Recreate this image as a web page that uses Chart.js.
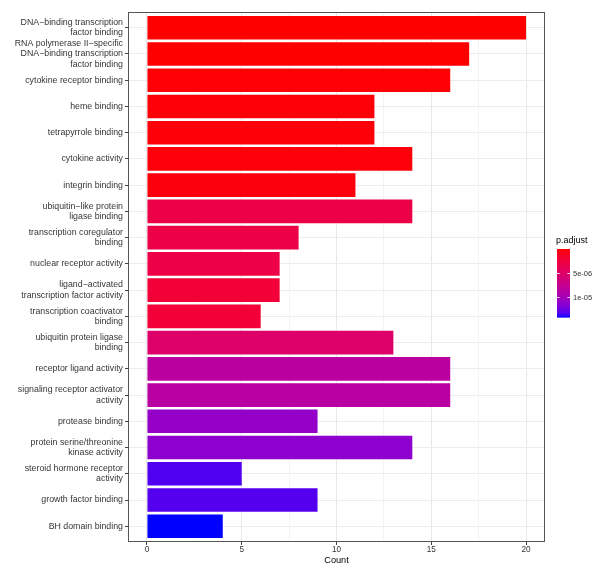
<!DOCTYPE html>
<html>
<head>
<meta charset="utf-8">
<script src="https://cdn.jsdelivr.net/npm/chart.js@4/dist/chart.umd.min.js"></script>
<style>
  html, body { margin: 0; padding: 0; background: #ffffff; }
  #wrap { width: 600px; height: 564px; position: relative; }
</style>
</head>
<body>
<div id="wrap"><canvas id="chart" width="600" height="564"></canvas></div>
<script>
// GO molecular-function terms (top to bottom), gene counts and adjusted p-values
const categories = [
  ['DNA\u2212binding transcription', 'factor binding'],
  ['RNA polymerase II\u2212specific', 'DNA\u2212binding transcription', 'factor binding'],
  'cytokine receptor binding',
  'heme binding',
  'tetrapyrrole binding',
  'cytokine activity',
  'integrin binding',
  ['ubiquitin\u2212like protein', 'ligase binding'],
  ['transcription coregulator', 'binding'],
  'nuclear receptor activity',
  ['ligand\u2212activated', 'transcription factor activity'],
  ['transcription coactivator', 'binding'],
  ['ubiquitin protein ligase', 'binding'],
  'receptor ligand activity',
  ['signaling receptor activator', 'activity'],
  'protease binding',
  ['protein serine/threonine', 'kinase activity'],
  ['steroid hormone receptor', 'activity'],
  'growth factor binding',
  'BH domain binding'
];
const counts = [20, 17, 16, 12, 12, 14, 11, 14, 8, 7, 7, 6, 13, 16, 16, 9, 14, 5, 9, 4];
const pAdjust = [
  1.1e-8, 4.3e-8, 9.5e-8, 1.6e-7, 1.6e-7, 2.4e-7, 3.3e-7,
  3.0e-6, 3.0e-6, 2.9e-6, 2.1e-6, 2.1e-6, 5.1e-6,
  8.5e-6, 8.6e-6, 1.1e-5, 1.13e-5, 1.34e-5, 1.33e-5, 1.42e-5
];
const countTicks = [0, 5, 10, 15, 20];
const countMinorTicks = [2.5, 7.5, 12.5, 17.5];
const legendTicks = [5e-6, 1e-5];
const legendTickLabels = ['5e-06', '1e-05'];

// ---- colour scale: red (low p) to blue (high p), interpolated in CIE Lab ----
function toLinear(c) { c /= 255; return c <= 0.04045 ? c / 12.92 : Math.pow((c + 0.055) / 1.055, 2.4); }
function fromLinear(c) {
  c = c <= 0.0031308 ? 12.92 * c : 1.055 * Math.pow(c, 1 / 2.4) - 0.055;
  return Math.round(Math.max(0, Math.min(1, c)) * 255);
}
function rgbToLab(r, g, b) {
  const R = toLinear(r), G = toLinear(g), B = toLinear(b);
  const X = (0.4124 * R + 0.3576 * G + 0.1805 * B) / 0.95047;
  const Y = (0.2126 * R + 0.7152 * G + 0.0722 * B);
  const Z = (0.0193 * R + 0.1192 * G + 0.9505 * B) / 1.08883;
  const f = v => v > 0.008856 ? Math.cbrt(v) : 7.787 * v + 16 / 116;
  const fx = f(X), fy = f(Y), fz = f(Z);
  return [116 * fy - 16, 500 * (fx - fy), 200 * (fy - fz)];
}
function labToRgb(L, a, b) {
  const fy = (L + 16) / 116, fx = fy + a / 500, fz = fy - b / 200;
  const fi = v => (v * v * v > 0.008856 ? v * v * v : (v - 16 / 116) / 7.787);
  const X = fi(fx) * 0.95047, Y = fi(fy), Z = fi(fz) * 1.08883;
  const R = 3.2406 * X - 1.5372 * Y - 0.4986 * Z;
  const G = -0.9689 * X + 1.8758 * Y + 0.0415 * Z;
  const B = 0.0557 * X - 0.2040 * Y + 1.0570 * Z;
  return 'rgb(' + fromLinear(R) + ',' + fromLinear(G) + ',' + fromLinear(B) + ')';
}
const LOW_LAB = rgbToLab(255, 0, 0);
const HIGH_LAB = rgbToLab(0, 0, 255);
const pMin = Math.min(...pAdjust), pMax = Math.max(...pAdjust);
function colorFor(p) {
  const t = (p - pMin) / (pMax - pMin);
  return labToRgb(
    LOW_LAB[0] + (HIGH_LAB[0] - LOW_LAB[0]) * t,
    LOW_LAB[1] + (HIGH_LAB[1] - LOW_LAB[1]) * t,
    LOW_LAB[2] + (HIGH_LAB[2] - LOW_LAB[2]) * t
  );
}

const FONT = '"Liberation Sans", Arial, Helvetica, sans-serif';
const TEXT = '#353535';

// panel border and the p.adjust colour bar
const panelAndLegend = {
  id: 'panelAndLegend',
  afterDraw(chart) {
    const ctx = chart.ctx, a = chart.chartArea;
    ctx.save();
    ctx.strokeStyle = '#555555';
    ctx.lineWidth = 1;
    ctx.strokeRect(Math.round(a.left) + 0.5, Math.round(a.top) + 0.5,
                   Math.round(a.right - a.left) - 1, Math.round(a.bottom - a.top) - 1);

    const x0 = 557, w = 13, top = 249, h = 68;
    const steps = 136;
    for (let i = 0; i < steps; i++) {
      const p = pMin + (i + 0.5) / steps * (pMax - pMin);
      ctx.fillStyle = colorFor(p);
      ctx.fillRect(x0, top + i * h / steps, w, h / steps + 0.6);
    }
    ctx.fillStyle = '#000000';
    ctx.font = '9px ' + FONT;
    ctx.textAlign = 'left';
    ctx.textBaseline = 'middle';
    ctx.fillText('p.adjust', 556, 241);

    ctx.font = '7.5px ' + FONT;
    legendTicks.forEach((v, i) => {
      const y = Math.round(top + (v - pMin) / (pMax - pMin) * h) + 0.5;
      ctx.strokeStyle = 'rgba(255,255,255,0.85)';
      ctx.beginPath();
      ctx.moveTo(x0, y); ctx.lineTo(x0 + 2.6, y);
      ctx.moveTo(x0 + w - 2.6, y); ctx.lineTo(x0 + w, y);
      ctx.stroke();
      ctx.fillStyle = TEXT;
      ctx.fillText(legendTickLabels[i], x0 + w + 3, y);
    });
    ctx.restore();
  }
};

// one bar per term, placed at positions 1..n on the term axis
const barPoints = counts.map((c, i) => ({ x: c, y: i + 1 }));

new Chart(document.getElementById('chart'), {
  type: 'bar',
  data: {
    datasets: [{
      data: barPoints,
      backgroundColor: pAdjust.map(colorFor),
      borderWidth: 0,
      barPercentage: 0.9,
      categoryPercentage: 1.0
    }]
  },
  options: {
    indexAxis: 'y',
    responsive: false,
    animation: false,
    devicePixelRatio: 1,
    layout: { padding: { left: 0, right: 55, top: 12, bottom: 0 } },
    plugins: { legend: { display: false }, tooltip: { enabled: false } },
    scales: {
      x: {
        type: 'linear',
        min: -1,
        max: 21,
        afterBuildTicks(scale) {
          scale.ticks = countTicks.concat(countMinorTicks)
            .sort((p, q) => p - q).map(v => ({ value: v }));
        },
        afterFit(scale) { scale.height = 22; },
        border: { display: false },
        grid: {
          color: c => (c.tick && c.tick.value % 5 === 0) ? '#e8e8e8' : '#f4f4f4',
          lineWidth: 1,
          tickLength: 3,
          tickColor: c => (c.tick && c.tick.value % 5 === 0) ? '#444444' : 'rgba(0,0,0,0)'
        },
        ticks: {
          autoSkip: false,
          maxRotation: 0,
          padding: 0,
          color: TEXT,
          font: { family: FONT, size: 8.2 },
          callback: v => (v % 5 === 0 ? String(v) : '')
        },
        title: {
          display: true,
          text: 'Count',
          color: '#000000',
          font: { family: FONT, size: 9.2, lineHeight: 0.8 },
          padding: { top: 0, bottom: 0 }
        }
      },
      y: {
        type: 'linear',
        reverse: true,
        offset: false,
        min: 0.4,
        max: categories.length + 0.6,
        afterBuildTicks(scale) {
          scale.ticks = categories.map((_, i) => ({ value: i + 1 }));
        },
        afterFit(scale) { scale.width = 128; },
        border: { display: false },
        grid: {
          offset: false,
          color: '#ececec',
          lineWidth: 1,
          tickLength: 3,
          tickColor: '#444444'
        },
        ticks: {
          autoSkip: false,
          padding: 2,
          color: TEXT,
          font: { family: FONT, size: 8.8, lineHeight: 1.15 },
          callback: v => categories[Math.round(v) - 1]
        }
      }
    }
  },
  plugins: [panelAndLegend]
});
</script>
</body>
</html>
